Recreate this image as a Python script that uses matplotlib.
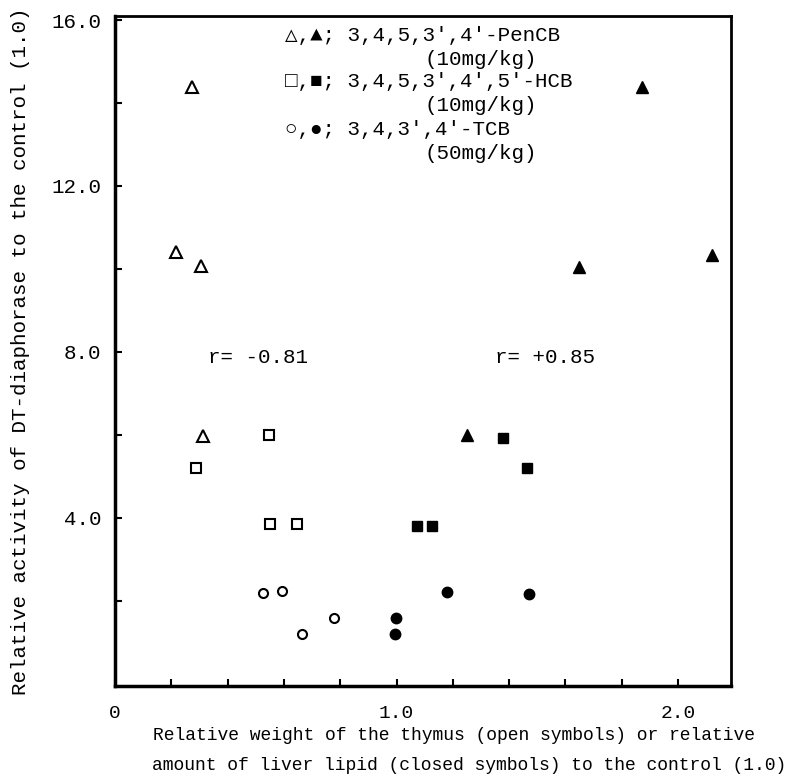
import matplotlib
matplotlib.use("Agg")
import matplotlib.pyplot as plt

# ── data ────────────────────────────────────────────────────────────────
# open symbols: relative thymus weight ; closed symbols: relative liver lipid
open_tri_x = [0.273, 0.217, 0.305, 0.313]
open_tri_y = [14.38, 10.40, 10.07, 5.98]
closed_tri_x = [1.872, 1.648, 2.120, 1.250]
closed_tri_y = [14.38, 10.05, 10.34, 6.00]

open_sq_x = [0.547, 0.288, 0.551, 0.646]
open_sq_y = [6.00, 5.19, 3.84, 3.84]
closed_sq_x = [1.378, 1.463, 1.073, 1.126]
closed_sq_y = [5.93, 5.19, 3.80, 3.80]

open_circ_x = [0.526, 0.593, 0.664, 0.778]
open_circ_y = [2.19, 2.22, 1.19, 1.57]
closed_circ_x = [0.998, 0.995, 1.179, 1.470]
closed_circ_y = [1.59, 1.19, 2.20, 2.17]

x_ticks = [0.0, 0.2, 0.4, 0.6, 0.8, 1.0, 1.2, 1.4, 1.6, 1.8, 2.0]
x_tick_labels = ["0", "", "", "", "", "1.0", "", "", "", "", "2.0"]
y_ticks = [2, 4, 6, 8, 10, 12, 14, 16]
y_tick_labels = ["", "4.0", "", "8.0", "", "12.0", "", "16.0"]

legend_lines = [
    ("\u25b3,\u25b2; 3,4,5,3\u2032,4\u2032-PenCB", "(10mg/kg)"),
    ("\u25a1,\u25a0; 3,4,5,3\u2032,4\u2032,5\u2032-HCB", "(10mg/kg)"),
    ("\u25cb,\u25cf; 3,4,3\u2032,4\u2032-TCB", "(50mg/kg)"),
]
r_left = "r= -0.81"
r_right = "r= +0.85"

mono = ["Liberation Mono", "DejaVu Sans Mono"]

fig = plt.figure(figsize=(7.92, 7.80), dpi=100)
ax = fig.add_axes([115 / 792, 1 - 686 / 780, 616 / 792, 670 / 780])

open_kw = dict(linestyle="none", markerfacecolor="white", markeredgecolor="black",
               markeredgewidth=1.5)
closed_kw = dict(linestyle="none", color="black")

ax.plot(open_tri_x, open_tri_y, marker="^", markersize=8.5, **open_kw)
ax.plot(closed_tri_x, closed_tri_y, marker="^", markersize=9, **closed_kw)
ax.plot(open_sq_x, open_sq_y, marker="s", markersize=7, **open_kw)
ax.plot(closed_sq_x, closed_sq_y, marker="s", markersize=7.5, **closed_kw)
ax.plot(open_circ_x, open_circ_y, marker="o", markersize=6.5, **open_kw)
ax.plot(closed_circ_x, closed_circ_y, marker="o", markersize=7.5, **closed_kw)

ax.set_xlim(0, 2.188)
ax.set_ylim(-0.06, 16.1)

ax.set_xticks(x_ticks)
ax.set_xticklabels(x_tick_labels, family=mono, fontsize=14)
ax.set_yticks(y_ticks)
ax.set_yticklabels(y_tick_labels, family=mono, fontsize=15)
ax.tick_params(direction="in", length=5, width=1.5)
ax.tick_params(axis="x", pad=14)
ax.tick_params(axis="y", pad=10)

for side in ["left", "bottom"]:
    ax.spines[side].set_linewidth(2.5)
for side in ["right", "top"]:
    ax.spines[side].set_linewidth(2.0)

ax.set_ylabel("Relative activity of DT-diaphorase to the control (1.0)",
              family=mono, fontsize=15)
ax.yaxis.set_label_coords(-0.138, 0.5)

# legend block written as text
line_y = [0.9716, 0.9358, 0.9015, 0.8657, 0.8299, 0.7955]
for i, (head, dose) in enumerate(legend_lines):
    ax.text(0.276, line_y[2 * i], head, transform=ax.transAxes,
            family=mono, fontsize=15, va="center", ha="left")
    ax.text(0.502, line_y[2 * i + 1], dose, transform=ax.transAxes,
            family=mono, fontsize=15, va="center", ha="left")

ax.text(0.151, 0.491, r_left, transform=ax.transAxes,
        family=mono, fontsize=15, va="center", ha="left")
ax.text(0.617, 0.491, r_right, transform=ax.transAxes,
        family=mono, fontsize=15, va="center", ha="left")

fig.text(454 / 792, 1 - 735 / 780,
         "Relative weight of the thymus (open symbols) or relative",
         family=mono, fontsize=13, ha="center", va="center")
fig.text(469 / 792, 1 - 765 / 780,
         "amount of liver lipid (closed symbols) to the control (1.0)",
         family=mono, fontsize=13, ha="center", va="center")

fig.savefig("out.png", dpi=100)
